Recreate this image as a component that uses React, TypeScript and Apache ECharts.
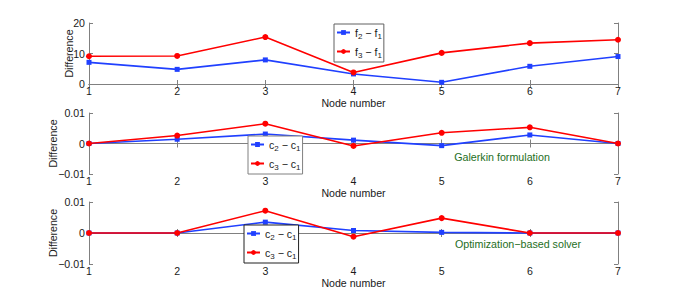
import React, { useEffect, useRef } from "react";
import * as echarts from "echarts";

const nodes = [1, 2, 3, 4, 5, 6, 7];
const f2f1 = [7.1, 4.8, 7.9, 3.3, 0.55, 5.8, 9.0];
const f3f1 = [9.1, 9.2, 15.4, 3.8, 10.2, 13.4, 14.5];
const galC2C1 = [0, 0.0014, 0.0031, 0.0011, -0.0007, 0.0028, 0];
const galC3C1 = [0, 0.0026, 0.0065, -0.0008, 0.0035, 0.0053, 0];
const optC2C1 = [0, 0, 0.0035, 0.0008, 0.0002, 0, 0];
const optC3C1 = [0, 0, 0.0072, -0.0012, 0.0048, 0, 0];
const topYTicks = { min: 0, max: 20, interval: 10 };
const lowYTicks = { min: -0.01, max: 0.01, interval: 0.01 };
const xLabel = "Node number";
const yLabel = "Difference";
const noteGalerkin = "Galerkin formulation";
const noteOpt = "Optimization\u2212based solver";

const FONT = "'Liberation Sans', Arial, Helvetica, sans-serif";
const AXIS_GREY = "#808080";
const TEXT = "#1a1a1a";
const BLUE = "#2040ff";
const RED = "#ff0000";
const FS = 10.6;

const pairs = (ys: number[]) => ys.map((y, i) => [nodes[i], y]);

const fmtY = (v: number) => {
  if (Math.abs(v) < 1e-9) return "0";
  const s = Math.abs(v) < 1 ? Math.abs(v).toFixed(2) : String(Math.abs(v));
  return (v < 0 ? "\u2212" : "") + s;
};

const grids = [
  { left: 89, right: 65, top: 23, height: 61 },
  { left: 89, right: 65, top: 113, height: 61 },
  { left: 89, right: 65, top: 202, height: 62 },
];

function buildOption() {
  const xAxis: any[] = [];
  const yAxis: any[] = [];
  grids.forEach((_, g) => {
    const yr = g === 0 ? topYTicks : lowYTicks;
    xAxis.push({
      type: "value",
      gridIndex: g,
      min: 1,
      max: 7,
      interval: 1,
      position: "bottom",
      name: xLabel,
      nameLocation: "middle",
      nameGap: 13,
      nameMoveOverlap: false,
      nameTextStyle: { fontFamily: FONT, fontSize: FS, color: TEXT },
      axisLine: { show: true, lineStyle: { color: "#5a5a5a", width: 1 } },
      axisTick: { show: true, inside: true, length: 4, lineStyle: { color: AXIS_GREY } },
      axisLabel: { fontFamily: FONT, fontSize: FS, color: TEXT, margin: 1 },
      splitLine: { show: false },
    });
    xAxis.push({
      type: "value",
      gridIndex: g,
      min: 1,
      max: 7,
      interval: 1,
      position: "top",
      axisLine: { show: true, lineStyle: { color: AXIS_GREY, width: 1 } },
      axisTick: { show: true, inside: true, length: 4, lineStyle: { color: AXIS_GREY } },
      axisLabel: { show: false },
      splitLine: { show: false },
    });
    yAxis.push({
      type: "value",
      gridIndex: g,
      min: yr.min,
      max: yr.max,
      interval: yr.interval,
      position: "left",
      name: yLabel,
      nameLocation: "middle",
      nameGap: g === 0 ? 15 : 31,
      nameMoveOverlap: false,
      nameRotate: 90,
      nameTextStyle: { fontFamily: FONT, fontSize: FS, color: TEXT },
      axisLine: { show: true, lineStyle: { color: AXIS_GREY, width: 1 } },
      axisTick: { show: true, inside: true, length: 4, lineStyle: { color: AXIS_GREY } },
      axisLabel: { fontFamily: FONT, fontSize: FS, color: TEXT, margin: 4, formatter: fmtY },
      splitLine: { show: false },
    });
    yAxis.push({
      type: "value",
      gridIndex: g,
      min: yr.min,
      max: yr.max,
      interval: yr.interval,
      position: "right",
      axisLine: { show: true, lineStyle: { color: AXIS_GREY, width: 1 } },
      axisTick: { show: true, inside: true, length: 4, lineStyle: { color: AXIS_GREY } },
      axisLabel: { show: false },
      splitLine: { show: false },
    });
  });

  const mk = (name: string, data: number[], g: number, blue: boolean) => ({
    type: "line",
    name,
    xAxisIndex: g * 2,
    yAxisIndex: g * 2,
    data: pairs(data),
    symbol: blue ? "rect" : "circle",
    symbolSize: blue ? 5 : 6,
    showSymbol: true,
    lineStyle: { color: blue ? BLUE : RED, width: 1.6 },
    itemStyle: { color: blue ? BLUE : RED },
    z: blue ? 2 : 3,
  });

  const series = [
    mk("f2f1", f2f1, 0, true),
    mk("f3f1", f3f1, 0, false),
    mk("gc2", galC2C1, 1, true),
    mk("gc3", galC3C1, 1, false),
    mk("oc2", optC2C1, 2, true),
    mk("oc3", optC3C1, 2, false),
  ];

  const labels: Record<string, string> = {
    f2f1: "{n|f}{s|2}{n| \u2212 f}{s|1}",
    f3f1: "{n|f}{s|3}{n| \u2212 f}{s|1}",
    gc2: "{n|c}{s|2}{n| \u2212 c}{s|1}",
    gc3: "{n|c}{s|3}{n| \u2212 c}{s|1}",
    oc2: "{n|c}{s|2}{n| \u2212 c}{s|1}",
    oc3: "{n|c}{s|3}{n| \u2212 c}{s|1}",
  };

  const legendBase = (data: string[], left: number, top: number, border: string) => ({
    data,
    left,
    top,
    orient: "vertical",
    backgroundColor: "#ffffff",
    borderColor: border,
    borderWidth: 1,
    borderRadius: 0,
    padding: [3, 2, 3, 2],
    itemWidth: 13,
    itemHeight: 6,
    itemGap: 6,
    selectedMode: false,
    formatter: (name: string) => labels[name],
    textStyle: {
      fontFamily: FONT,
      color: TEXT,
      rich: {
        n: { fontFamily: FONT, fontSize: FS, color: TEXT, lineHeight: 15 },
        s: { fontFamily: FONT, fontSize: 8, color: TEXT, lineHeight: 4, verticalAlign: "bottom" },
      },
    },
  });

  return {
    animation: false,
    backgroundColor: "#ffffff",
    grid: grids,
    xAxis,
    yAxis,
    series,
    legend: [
      legendBase(["f2f1", "f3f1"], 334, 24, "#606060"),
      legendBase(["gc2", "gc3"], 248, 136, "#808080"),
      legendBase(["oc2", "oc3"], 244, 225, "#202020"),
    ],
    graphic: [
      {
        type: "text",
        x: 502,
        y: 157,
        style: {
          text: noteGalerkin,
          fontFamily: FONT,
          fontSize: 10.7,
          fill: "#1e6e1e",
          align: "center",
          verticalAlign: "middle",
        },
      },
      {
        type: "text",
        x: 518,
        y: 244,
        style: {
          text: noteOpt,
          fontFamily: FONT,
          fontSize: 10.7,
          fill: "#1e6e1e",
          align: "center",
          verticalAlign: "middle",
        },
      },
    ],
  };
}

export default function App() {
  const ref = useRef<HTMLDivElement>(null);
  useEffect(() => {
    if (!ref.current) return;
    const chart = echarts.init(ref.current, undefined, { renderer: "svg" });
    chart.setOption(buildOption() as any);
    return () => chart.dispose();
  }, []);
  return (
    <div
      ref={ref}
      style={{ width: 683, height: 299, position: "absolute", left: 0, top: 0 }}
    />
  );
}
